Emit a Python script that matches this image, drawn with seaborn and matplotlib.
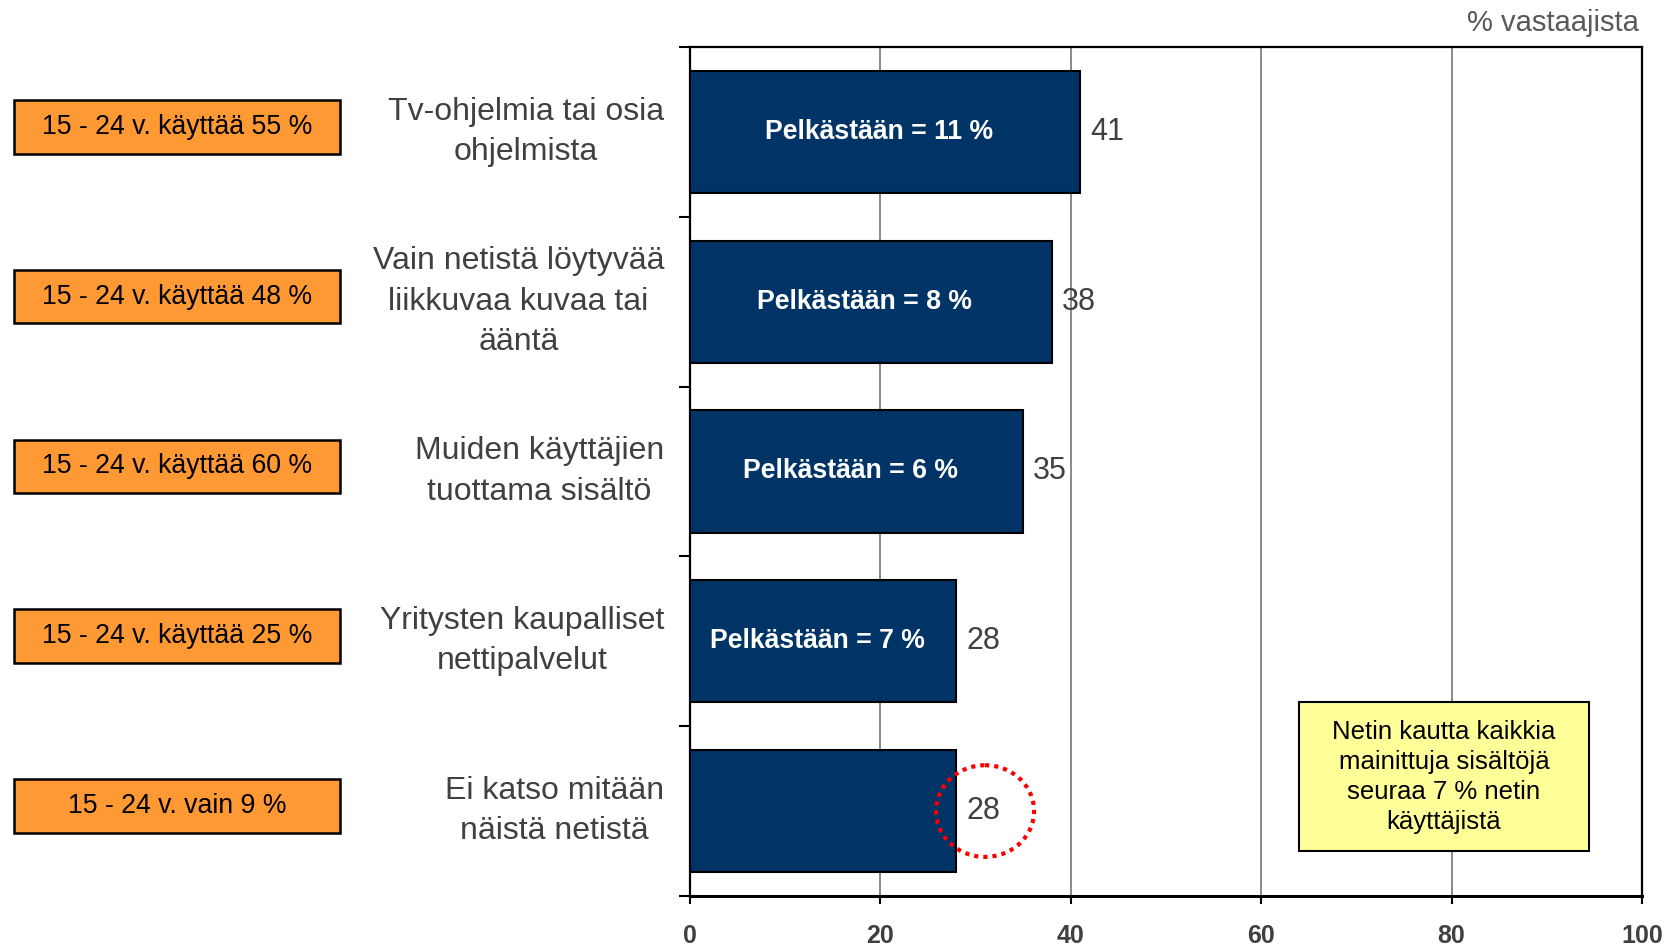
import matplotlib
matplotlib.use("Agg")
import matplotlib.pyplot as plt
import matplotlib.transforms as mtransforms
from matplotlib.patches import Rectangle, Ellipse
import numpy as np
import pandas as pd
import seaborn as sns

# ---- data ----
categories = [
    "Tv-ohjelmia tai osia\nohjelmista",
    "Vain netistä löytyvää\nliikkuvaa kuvaa tai\nääntä",
    "Muiden käyttäjien\ntuottama sisältö",
    "Yritysten kaupalliset\nnettipalvelut",
    "Ei katso mitään\nnäistä netistä",
]
values = [41, 38, 35, 28, 28]
inner_labels = ["Pelkästään = 11 %", "Pelkästään = 8 %", "Pelkästään = 6 %",
                "Pelkästään = 7 %", ""]
youth_labels = ["15 - 24 v. käyttää 55 %", "15 - 24 v. käyttää 48 %",
                "15 - 24 v. käyttää 60 %", "15 - 24 v. käyttää 25 %",
                "15 - 24 v. vain 9 %"]
x_ticks = [0, 20, 40, 60, 80, 100]
unit_label = "% vastaajista"
note_text = "Netin kautta kaikkia\nmainittuja sisältöjä\nseuraa 7 % netin\nkäyttäjistä"

sns.set_theme(style="white")
plt.rcParams['font.family'] = ['Liberation Sans', 'DejaVu Sans']

BAR = "#003366"
GRAY = "#404040"

df = pd.DataFrame({"cat": categories, "val": values})

fig = plt.figure(figsize=(16.77, 9.48), dpi=100)
ax = fig.add_axes([0.4114, 0.0549, 0.9791 - 0.4114, 0.9504 - 0.0549])

sns.barplot(data=df, x="val", y="cat", orient="h", color=BAR, saturation=1,
            width=0.72, edgecolor="black", linewidth=1.5, ax=ax, zorder=3)

ax.set_xlim(0, 100)
ax.set_ylim(4.5, -0.5)
ax.set_xlabel("")
ax.set_ylabel("")
ax.set_xticks(x_ticks)
ax.set_xticklabels([str(t) for t in x_ticks], fontsize=18, fontweight="bold", color=GRAY)
ax.xaxis.grid(True, color="#808080", linewidth=1.3, zorder=0)
ax.yaxis.grid(False)
ax.set_axisbelow(True)

for s in ax.spines.values():
    s.set_visible(True)
    s.set_color("black")
    s.set_linewidth(1.6)
ax.spines["bottom"].set_linewidth(2.2)

ax.tick_params(axis="x", which="major", direction="out", length=5.5, width=1.5,
               color="black", pad=14.5, bottom=True)
ax.set_yticks(np.arange(-0.5, 5, 1), minor=True)
ax.tick_params(axis="y", which="minor", direction="out", length=7.7, width=1.5,
               color="black", left=True)
ax.tick_params(axis="y", which="major", length=0, pad=18.5, labelsize=23,
               labelcolor=GRAY)
for lab in ax.get_yticklabels():
    lab.set_multialignment("center")
    lab.set_linespacing(1.45)
    lab.set_verticalalignment("center")

cont = ax.containers[0]
ax.bar_label(cont, labels=[str(v) for v in values], padding=7, fontsize=22, color=GRAY)

# inner labels, centred in each bar (slightly left as in the source)
off = mtransforms.offset_copy(ax.transData, fig=fig, x=-6, y=0, units="dots")
for i, (v, lab) in enumerate(zip(values, inner_labels)):
    if lab:
        ax.text(v / 2, i, lab, transform=off, ha="center", va="center",
                fontsize=19.2, fontweight="bold", color="white", zorder=5)

# youth boxes on the left (figure x, data y)
trans = mtransforms.blended_transform_factory(fig.transFigure, ax.transData)
box_h = 0.315
for i, lab in enumerate(youth_labels):
    yc = i - 0.03
    fig.patches.append(Rectangle((0.0083, yc - box_h / 2), 0.1944, box_h,
                                 transform=trans, facecolor="#FF9933",
                                 edgecolor="black", linewidth=1.8, zorder=2))
    fig.text(0.0083 + 0.1944 / 2, yc, lab, transform=trans, ha="center",
             va="center", fontsize=19.2, color="black")

# unit label
fig.text(0.977, 0.976, unit_label, ha="right", va="center", fontsize=21,
         color="#595959")

# note box
ax.add_patch(Rectangle((64.0, 3.357), 30.4, 0.878, facecolor="#FFFF99",
                       edgecolor="black", linewidth=1.5, zorder=4))
ax.text(79.2, 3.80, note_text, ha="center", va="center", fontsize=18.5,
        color="black", linespacing=1.32, zorder=5)

# red dotted highlight around last value
ax.add_patch(Ellipse((values[4] + 3.0, 4.0), 10.3, 0.54, fill=False,
                     edgecolor="red", linestyle=(0, (1, 1.2)), linewidth=3,
                     zorder=6))

fig.savefig("out.png", dpi=100)
